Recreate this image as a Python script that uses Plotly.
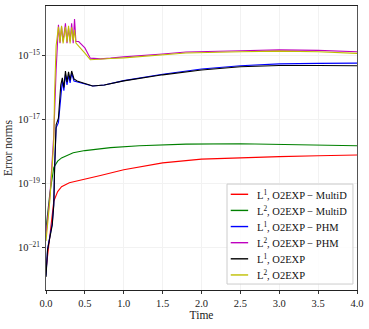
import plotly.graph_objects as go

# ---- data ----
t_red = [0.0, 0.05, 0.1, 0.15, 0.2, 0.3, 0.5, 0.7, 1.0, 1.5, 2.0, 2.5, 3.0, 3.5, 4.0]
l1_multid = [2.0e-22, 2.5e-21, 2.8e-20, 5.6e-20, 7.9e-20, 1.05e-19, 1.35e-19, 1.78e-19,
             2.7e-19, 4.4e-19, 5.8e-19, 6.5e-19, 6.9e-19, 7.4e-19, 7.8e-19]

t_green = [0.0, 0.05, 0.1, 0.15, 0.2, 0.35, 0.5, 0.83, 1.2, 1.8, 2.5, 3.0, 3.5, 4.0]
l2_multid = [4.0e-21, 5.0e-20, 3.2e-19, 5.0e-19, 6.3e-19, 9.1e-19, 1.07e-18, 1.32e-18,
             1.51e-18, 1.7e-18, 1.74e-18, 1.66e-18, 1.58e-18, 1.51e-18]

t_l1 = [0.0, 0.02, 0.08, 0.1, 0.11, 0.13, 0.16, 0.19, 0.21, 0.23, 0.25, 0.27, 0.29,
        0.31, 0.33, 0.36, 0.4, 0.5, 0.6, 0.75, 1.0, 1.5, 2.0, 2.5, 3.0, 3.5, 4.0]
l1_phm = [1.3e-22, 9.0e-22, 5.5e-21, 2.3e-20, 2.8e-19, 5.5e-18, 8.0e-18, 5.5e-17,
          1.6e-16, 8.0e-17, 2.6e-16, 1.2e-16, 2.4e-16, 1.4e-16, 2.8e-16, 1.6e-16,
          1.5e-16, 1.3e-16, 1.12e-16, 1.2e-16, 1.65e-16, 2.6e-16, 3.8e-16, 4.8e-16,
          5.5e-16, 5.7e-16, 5.8e-16]
l1_o2exp = [1.2e-22, 8.5e-22, 5.0e-21, 2.1e-20, 2.5e-19, 6.8e-18, 1.1e-17, 1.2e-16,
            2.0e-16, 1.0e-16, 3.3e-16, 1.5e-16, 3.1e-16, 1.7e-16, 3.3e-16, 1.85e-16,
            1.6e-16, 1.32e-16, 1.12e-16, 1.2e-16, 1.62e-16, 2.5e-16, 3.55e-16, 4.45e-16,
            4.9e-16, 4.9e-16, 4.8e-16]

t_l2 = [0.0, 0.05, 0.1, 0.11, 0.13, 0.16, 0.18, 0.2, 0.22, 0.25, 0.27, 0.29, 0.31,
        0.33, 0.35, 0.367, 0.385, 0.42, 0.5, 0.57, 0.7, 0.83, 1.0, 1.5, 1.8, 2.5,
        3.0, 3.5, 4.0]
l2_phm = [2.5e-21, 4.0e-20, 3.2e-18, 2.5e-17, 3.5e-16, 9.1e-15, 2.45e-15, 8.1e-15,
          2.75e-15, 1.02e-14, 2.45e-15, 7.2e-15, 2.75e-15, 1.02e-14, 2.45e-15,
          1.38e-14, 2.75e-15, 2.75e-15, 1.74e-15, 8.3e-16, 7.9e-16, 8.3e-16,
          9.1e-16, 1.12e-15, 1.29e-15, 1.41e-15, 1.51e-15, 1.45e-15, 1.32e-15]
l2_o2exp = [1.6e-21, 3.0e-20, 2.0e-18, 6.0e-17, 2.0e-15, 7.9e-15, 2.6e-15, 8.5e-15,
            2.4e-15, 7.9e-15, 2.6e-15, 8.5e-15, 2.4e-15, 7.6e-15, 3.0e-15, 6.3e-15,
            2.45e-15, 2.0e-15, 1.2e-15, 7.4e-16, 7.9e-16, 8.1e-16, 8.5e-16,
            1.02e-15, 1.2e-15, 1.32e-15, 1.38e-15, 1.32e-15, 1.17e-15]

series_names = [
    "L<sup>1</sup>, O2EXP − MultiD",
    "L<sup>2</sup>, O2EXP − MultiD",
    "L<sup>1</sup>, O2EXP − PHM",
    "L<sup>2</sup>, O2EXP − PHM",
    "L<sup>1</sup>, O2EXP",
    "L<sup>2</sup>, O2EXP",
]
series_t = [t_red, t_green, t_l1, t_l2, t_l1, t_l2]
series_v = [l1_multid, l2_multid, l1_phm, l2_phm, l1_o2exp, l2_o2exp]
series_colors = ["#ff0000", "#008000", "#0000ff", "#bf00bf", "#000000", "#bfbf00"]

x_ticks = [0.0, 0.5, 1.0, 1.5, 2.0, 2.5, 3.0, 3.5, 4.0]
y_tickvals = [1e-21, 1e-19, 1e-17, 1e-15]
y_ticktext = ["10<sup>−21</sup>", "10<sup>−19</sup>", "10<sup>−17</sup>", "10<sup>−15</sup>"]

FONT = "Liberation Serif"

fig = go.Figure()
for name, t, v, c in zip(series_names, series_t, series_v, series_colors):
    fig.add_trace(go.Scatter(x=t, y=v, mode="lines", name=name, showlegend=False,
                             line=dict(color=c, width=1.1)))

# legend box drawn in paper coordinates (compact, matplotlib-like)
shapes = [dict(type="rect", xref="paper", yref="paper", x0=0.582, x1=0.987,
               y0=0.021, y1=0.373, line=dict(color="#cccccc", width=1),
               fillcolor="rgba(255,255,255,0.85)", layer="above")]
annotations = []
row_top, row_step = 0.337, 0.0568
for i, (name, c) in enumerate(zip(series_names, series_colors)):
    yy = row_top - i * row_step
    shapes.append(dict(type="line", xref="paper", yref="paper", x0=0.594, x1=0.650,
                       y0=yy, y1=yy, line=dict(color=c, width=1.4), layer="above"))
    annotations.append(dict(xref="paper", yref="paper", x=0.672, y=yy, text=name,
                            showarrow=False, xanchor="left", yanchor="middle",
                            font=dict(family=FONT, size=10.5, color="#111")))

fig.update_layout(
    width=369, height=329,
    margin=dict(l=46, r=12, t=6, b=39, autoexpand=False),
    paper_bgcolor="white", plot_bgcolor="white",
    font=dict(family=FONT, size=10, color="#222"),
    showlegend=False,
    shapes=shapes, annotations=annotations,
    xaxis=dict(range=[0, 4], tickvals=x_ticks, ticktext=[f"{v:.1f}" for v in x_ticks],
               ticks="outside", ticklen=3, tickcolor="#333", automargin=False,
               showgrid=True, gridcolor="#f2f2f2", gridwidth=1, zeroline=False,
               showline=True, linecolor="#222", linewidth=1, mirror=True,
               tickfont=dict(family=FONT, size=10.5),
               title=dict(text="Time", font=dict(family=FONT, size=11.5), standoff=2)),
    yaxis=dict(type="log", range=[-22.33, -13.45], tickvals=y_tickvals, ticktext=y_ticktext,
               ticks="outside", ticklen=3, tickcolor="#333", automargin=False,
               showgrid=True, gridcolor="#f2f2f2", gridwidth=1, zeroline=False,
               showline=True, linecolor="#555", linewidth=1, mirror=True,
               tickfont=dict(family=FONT, size=10.5),
               title=dict(text="Error norms", font=dict(family=FONT, size=11.5), standoff=2)),
)

fig.write_html("out.html", post_script="document.body.style.margin='0';",
               config={"displayModeBar": False})
